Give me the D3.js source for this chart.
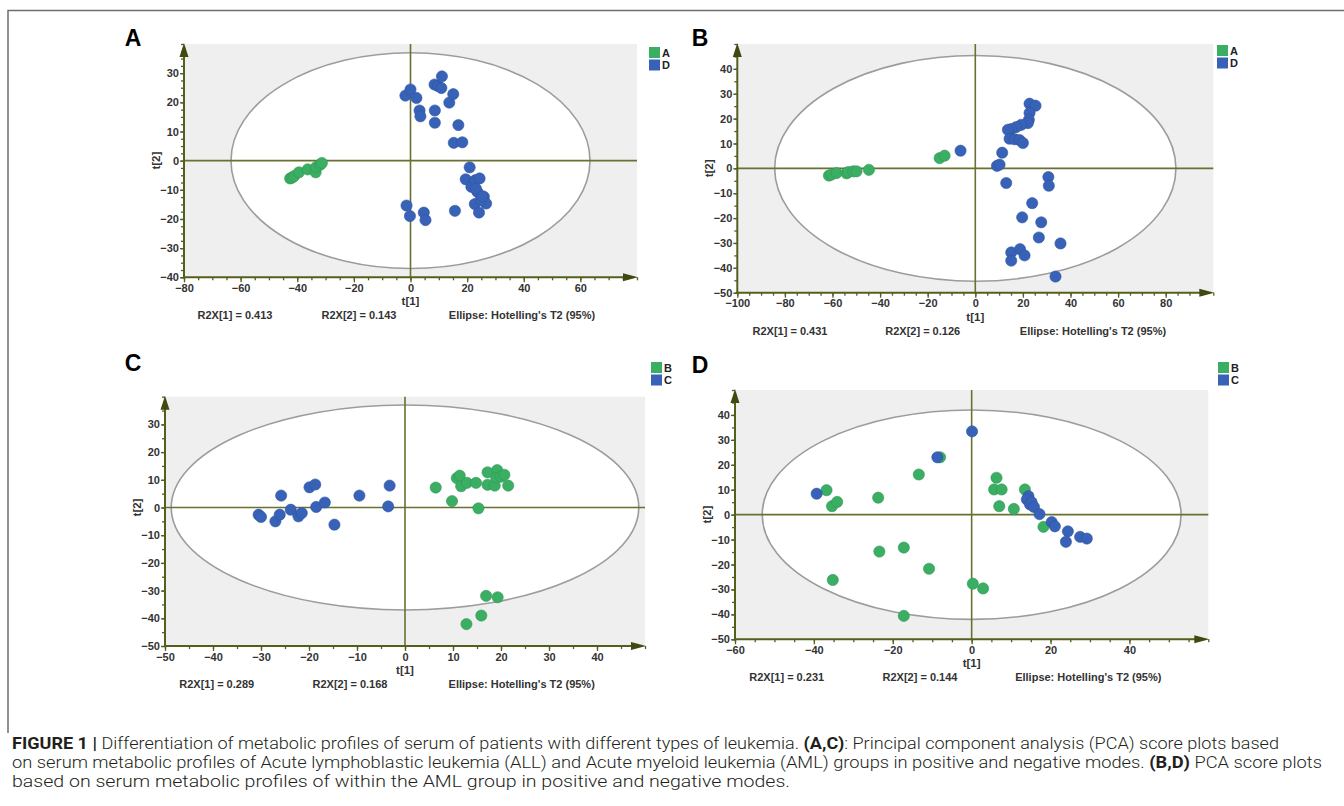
<!DOCTYPE html>
<html>
<head>
<meta charset="utf-8">
<script src="https://cdn.jsdelivr.net/npm/d3@7"></script>
<style>
  html, body { margin: 0; padding: 0; background: #fff; }
  svg { display: block; }
</style>
</head>
<body>
<svg id="chart" width="1344" height="806"></svg>
<script>
// ---------------- DATA ----------------
// Panel A : groups A (green) and D (blue)
const panelA_groupA = [[-42.5,-6.1],[-41.8,-5.8],[-41.1,-5.3],[-39.4,-4.0],[-36.3,-3.0],[-33.5,-4.0],[-33.3,-2.2],[-31.9,-1.4],[-31.3,-0.8]];
const panelA_groupD = [[-1.8,22.3],[0,24.4],[2.1,21.5],[3.2,17.2],[3.5,15.2],[8.5,26.1],[9.7,25.6],[11.1,28.9],[10.9,24.9],
  [8.6,17.2],[8.6,13.0],[13.7,19.9],[15.1,22.8],[16.9,12.2],[15.3,6.1],[18.3,6.3],[20.9,-2.3],[19.5,-6.4],[21.5,-9.0],
  [22.9,-6.7],[24.4,-6.1],[23.6,-10.7],[23.1,-9.6],[22.7,-14.9],[24.2,-17.8],[25.9,-12.4],[26.7,-14.7],[24.8,-13.5],
  [25.4,-12.2],[15.7,-17.2],[-1.4,-15.4],[-0.2,-19.0],[4.7,-17.8],[5.3,-20.4]];
// Panel B : groups A (green) and D (blue)
const panelB_groupA = [[-61.5,-2.9],[-60.4,-2.5],[-58.3,-1.9],[-54.1,-2.0],[-53.4,-1.5],[-51.3,-1.2],[-49.9,-1.2],[-44.7,-0.6],[-15.0,4.1],[-12.9,5.1]];
const panelB_groupD = [[-6.2,7.1],[11.3,6.3],[9.1,1.0],[10.2,1.5],[13.0,-5.9],[30.7,-3.5],[30.9,-7.0],[22.8,26.0],[25.3,25.2],
  [22.8,22.3],[22.5,19.5],[22.1,18.2],[19.3,17.5],[17.2,16.6],[15.1,15.8],[13.7,15.5],[14.4,11.9],[16.5,11.7],[18.6,11.4],
  [20.0,10.2],[23.9,-14.0],[19.7,-19.7],[27.7,-21.7],[26.7,-27.8],[35.8,-30.2],[15.1,-33.8],[18.8,-32.5],[20.7,-35.0],
  [15.1,-37.1],[33.7,-43.5]];
// Panel C : groups B (green) and C (blue)
const panelC_groupB = [[6.4,7.2],[9.8,2.3],[10.8,10.6],[11.4,11.5],[11.7,7.7],[12.9,8.9],[14.8,8.9],[15.3,-0.3],[17.2,12.7],
  [17.2,8.2],[18.7,7.9],[19.2,13.5],[19.0,10.7],[20.0,11.1],[20.7,11.8],[21.5,7.9],[16.9,-31.9],[19.3,-32.4],[15.9,-39.0],[12.8,-42.1]];
const panelC_groupC = [[-30.5,-2.6],[-30.0,-3.4],[-27.0,-5.0],[-26.1,-2.6],[-25.8,4.3],[-23.8,-0.8],[-22.2,-3.2],[-21.5,-2.0],
  [-19.9,7.3],[-18.7,8.3],[-18.5,0.2],[-16.7,1.8],[-14.7,-6.2],[-9.5,4.3],[-3.5,0.4],[-3.2,7.9]];
// Panel D : groups B (green) and C (blue)
const panelD_groupC = [[-39.3,8.4],[0.1,33.4],[-8.7,23.0],[14.4,7.4],[14.0,6.1],[14.8,4.1],[15.2,5.0],[15.8,3.1],[17.2,0.2],
  [20.3,-3.0],[21.1,-4.7],[24.4,-6.7],[23.9,-10.9],[27.5,-8.9],[29.2,-9.6]];
const panelD_groupB = [[-36.8,9.8],[-35.4,3.4],[-34.1,5.1],[-23.7,6.8],[-13.4,16.1],[-8.0,23.0],[-35.2,-26.2],[-23.4,-14.8],
  [-17.2,-13.2],[-10.8,-21.7],[-17.2,-40.6],[0.3,-27.7],[2.9,-29.6],[6.3,14.8],[5.7,10.1],[7.6,10.1],[7.0,3.4],[10.7,2.3],
  [13.5,10.1],[18.2,-4.9]];

const legendAD = ["A", "D"];
const legendBC = ["B", "C"];

const xTicksA = [-80,-60,-40,-20,0,20,40,60];
const yTicksA = [-40,-30,-20,-10,0,10,20,30];
const xTicksB = [-100,-80,-60,-40,-20,0,20,40,60,80];
const yTicksB = [-50,-40,-30,-20,-10,0,10,20,30,40];
const xTicksC = [-50,-40,-30,-20,-10,0,10,20,30,40];
const yTicksC = [-50,-40,-30,-20,-10,0,10,20,30];
const xTicksD = [-60,-40,-20,0,20,40];
const yTicksD = [-50,-40,-30,-20,-10,0,10,20,30,40];

const r2xA = ["R2X[1] = 0.413", "R2X[2] = 0.143"];
const r2xB = ["R2X[1] = 0.431", "R2X[2] = 0.126"];
const r2xC = ["R2X[1] = 0.289", "R2X[2] = 0.168"];
const r2xD = ["R2X[1] = 0.231", "R2X[2] = 0.144"];
// Hotelling's T2 ellipse semi-axes (t[1], t[2])
const ellipseA = [63.4, 37.0];
const ellipseB = [84.3, 45.4];
const ellipseC = [48.7, 37.0];
const ellipseD = [53.1, 42.0];

const captionLines = [
  [["FIGURE 1 | ", true], ["Differentiation of metabolic profiles of serum of patients with different types of leukemia. ", false], ["(A,C)", true], [": Principal component analysis (PCA) score plots based", false]],
  [["on serum metabolic profiles of Acute lymphoblastic leukemia (ALL) and Acute myeloid leukemia (AML) groups in positive and negative modes. ", false], ["(B,D)", true], [" PCA score plots", false]],
  [["based on serum metabolic profiles of within the AML group in positive and negative modes.", false]]
];

// ---------------- STYLE / LAYOUT ----------------
const GREEN = "#3aae63", BLUE = "#3762b7";
const AXIS = "#545f1c", CROSS = "#6a7030";
const FONT = "'Liberation Sans', Arial, Helvetica, sans-serif";

const svg = d3.select("#chart");

// figure frame (top and left)
svg.append("path").attr("d", "M8,733 L8,10.5 L1344,10.5")
  .attr("fill", "none").attr("stroke", "#6e6e6e").attr("stroke-width", 1.5);

function drawPanel(p) {
  const g = svg.append("g");
  const x = d3.scaleLinear().domain(p.xDomain).range([p.left, p.right]);
  const y = d3.scaleLinear().domain(p.yDomain).range([p.bottom, p.top]);

  g.append("rect").attr("x", p.left).attr("y", p.top)
    .attr("width", p.right - p.left).attr("height", p.bottom - p.top).attr("fill", "#efefef");

  g.append("ellipse").attr("cx", x(0)).attr("cy", y(0))
    .attr("rx", x(p.ellipse[0]) - x(0)).attr("ry", y(0) - y(p.ellipse[1]))
    .attr("fill", "#fff").attr("stroke", "#9c9c9c").attr("stroke-width", 1.6);

  g.append("line").attr("x1", p.left).attr("x2", p.right).attr("y1", y(0)).attr("y2", y(0))
    .attr("stroke", CROSS).attr("stroke-width", 1.6);
  g.append("line").attr("x1", x(0)).attr("x2", x(0)).attr("y1", p.top).attr("y2", p.bottom)
    .attr("stroke", CROSS).attr("stroke-width", 1.6);

  p.series.forEach(s => {
    g.append("g").selectAll("circle").data(s.data).join("circle")
      .attr("cx", d => x(d[0])).attr("cy", d => y(d[1])).attr("r", 5.6)
      .attr("fill", s.color).attr("stroke", d3.color(s.color).darker(0.4)).attr("stroke-width", 0.6);
  });

  // minor ticks
  const xMinor = d3.range(p.xDomain[0], p.xDomain[1] + 0.001, p.xMinor);
  const yMinor = d3.range(p.yDomain[0], p.yDomain[1] + 0.001, p.yMinor);
  const gxm = g.append("g").attr("transform", `translate(0,${p.bottom})`)
    .call(d3.axisBottom(x).tickValues(xMinor).tickSize(3).tickFormat(""));
  const gym = g.append("g").attr("transform", `translate(${p.left},0)`)
    .call(d3.axisLeft(y).tickValues(yMinor).tickSize(3).tickFormat(""));
  // major ticks
  const gx = g.append("g").attr("transform", `translate(0,${p.bottom})`)
    .call(d3.axisBottom(x).tickValues(p.xTicks).tickSize(5).tickPadding(2).tickFormat(d3.format("d")));
  const gy = g.append("g").attr("transform", `translate(${p.left},0)`)
    .call(d3.axisLeft(y).tickValues(p.yTicks).tickSize(4).tickPadding(1).tickFormat(d3.format("d")));
  [gxm, gym, gx, gy].forEach(a => {
    a.select(".domain").remove();
    a.selectAll("line").attr("stroke", AXIS).attr("stroke-width", 1.3);
    a.selectAll("text").attr("font-family", FONT).attr("font-size", 11)
      .attr("font-weight", "bold").attr("fill", "#333");
  });

  // axis lines with arrows
  g.append("line").attr("x1", p.left).attr("x2", p.left).attr("y1", p.bottom + 1).attr("y2", p.top + 6)
    .attr("stroke", AXIS).attr("stroke-width", 2);
  g.append("line").attr("x1", p.left - 1).attr("x2", p.right - 6).attr("y1", p.bottom).attr("y2", p.bottom)
    .attr("stroke", AXIS).attr("stroke-width", 2);
  g.append("path").attr("d", `M${p.left},${p.top - 1} L${p.left - 4.5},${p.top + 13} L${p.left + 4.5},${p.top + 13} Z`)
    .attr("fill", "#3e4a10");
  g.append("path").attr("d", `M${p.right + 1},${p.bottom} L${p.right - 14},${p.bottom - 4} L${p.right - 14},${p.bottom + 4} Z`)
    .attr("fill", "#3e4a10");

  // axis titles
  g.append("text").attr("x", x(0)).attr("y", p.bottom + 28).attr("text-anchor", "middle")
    .attr("font-family", FONT).attr("font-size", 11.5).attr("font-weight", "bold").attr("fill", "#333").text("t[1]");
  g.append("text").attr("transform", `translate(${p.left - 24},${y(0)}) rotate(-90)`).attr("text-anchor", "middle")
    .attr("font-family", FONT).attr("font-size", 11.5).attr("font-weight", "bold").attr("fill", "#333").text("t[2]");

  // footer
  const fy = p.bottom + 42;
  [[p.r2x[0], p.foot[0]], [p.r2x[1], p.foot[1]], ["Ellipse: Hotelling's T2 (95%)", p.foot[2]]].forEach(([t, fx]) => {
    g.append("text").attr("x", p.left + fx).attr("y", fy).attr("text-anchor", "middle")
      .attr("font-family", FONT).attr("font-size", 11).attr("font-weight", "bold").attr("fill", "#333").text(t);
  });

  // panel letter
  g.append("text").attr("x", p.letterPos[0]).attr("y", p.letterPos[1] + 8).attr("text-anchor", "middle")
    .attr("font-family", FONT).attr("font-size", 23).attr("font-weight", "bold").attr("fill", "#000").text(p.letter);

  // legend
  const lg = g.append("g").attr("transform", `translate(${p.legendPos[0]},${p.legendPos[1]})`);
  p.legend.forEach((name, i) => {
    lg.append("rect").attr("x", 0).attr("y", i * 12.5).attr("width", 11).attr("height", 11)
      .attr("fill", p.series[i].color);
    lg.append("text").attr("x", 13).attr("y", i * 12.5 + 9.5)
      .attr("font-family", FONT).attr("font-size", 11).attr("font-weight", "bold").attr("fill", "#222").text(name);
  });
}

drawPanel({ letter: "A", letterPos: [133, 38], left: 184, right: 637, top: 44, bottom: 277.3,
  xDomain: [-80, 80], yDomain: [-40, 40], xTicks: xTicksA, yTicks: yTicksA, xMinor: 5, yMinor: 2.5,
  ellipse: ellipseA, r2x: r2xA, foot: [51, 175, 338], legend: legendAD, legendPos: [649, 47],
  series: [{ data: panelA_groupA, color: GREEN }, { data: panelA_groupD, color: BLUE }] });

drawPanel({ letter: "B", letterPos: [700, 38], left: 737.3, right: 1213.3, top: 44, bottom: 292.7,
  xDomain: [-100, 100], yDomain: [-50, 50], xTicks: xTicksB, yTicks: yTicksB, xMinor: 5, yMinor: 5,
  ellipse: ellipseB, r2x: r2xB, foot: [52.7, 185.4, 355.7], legend: legendAD, legendPos: [1217, 45],
  series: [{ data: panelB_groupA, color: GREEN }, { data: panelB_groupD, color: BLUE }] });

drawPanel({ letter: "C", letterPos: [133, 363], left: 165, right: 645, top: 396.7, bottom: 646,
  xDomain: [-50, 50], yDomain: [-50, 40], xTicks: xTicksC, yTicks: yTicksC, xMinor: 5, yMinor: 5,
  ellipse: ellipseC, r2x: r2xC, foot: [51.7, 185, 356.7], legend: legendBC, legendPos: [651, 362],
  series: [{ data: panelC_groupB, color: GREEN }, { data: panelC_groupC, color: BLUE }] });

drawPanel({ letter: "D", letterPos: [700, 365], left: 735, right: 1208.3, top: 390, bottom: 639.3,
  xDomain: [-60, 60], yDomain: [-50, 50], xTicks: xTicksD, yTicks: yTicksD, xMinor: 5, yMinor: 5,
  ellipse: ellipseD, r2x: r2xD, foot: [51.7, 185, 353.3], legend: legendBC, legendPos: [1218, 362],
  series: [{ data: panelD_groupB, color: GREEN }, { data: panelD_groupC, color: BLUE }] });

// caption
const capWidths = [1267, 1310, 778];
const capBase = [749, 768, 787];
captionLines.forEach((line, i) => {
  const t = svg.append("text").attr("x", 12).attr("y", capBase[i])
    .attr("font-family", "Roboto, 'Liberation Sans', sans-serif").attr("font-size", 16.5)
    .attr("font-weight", 300).attr("fill", "#231f20")
    .attr("textLength", capWidths[i]).attr("lengthAdjust", "spacingAndGlyphs");
  line.forEach(([s, bold]) => {
    t.append("tspan").attr("font-weight", bold ? 700 : 300).text(s);
  });
});
</script>
</body>
</html>
